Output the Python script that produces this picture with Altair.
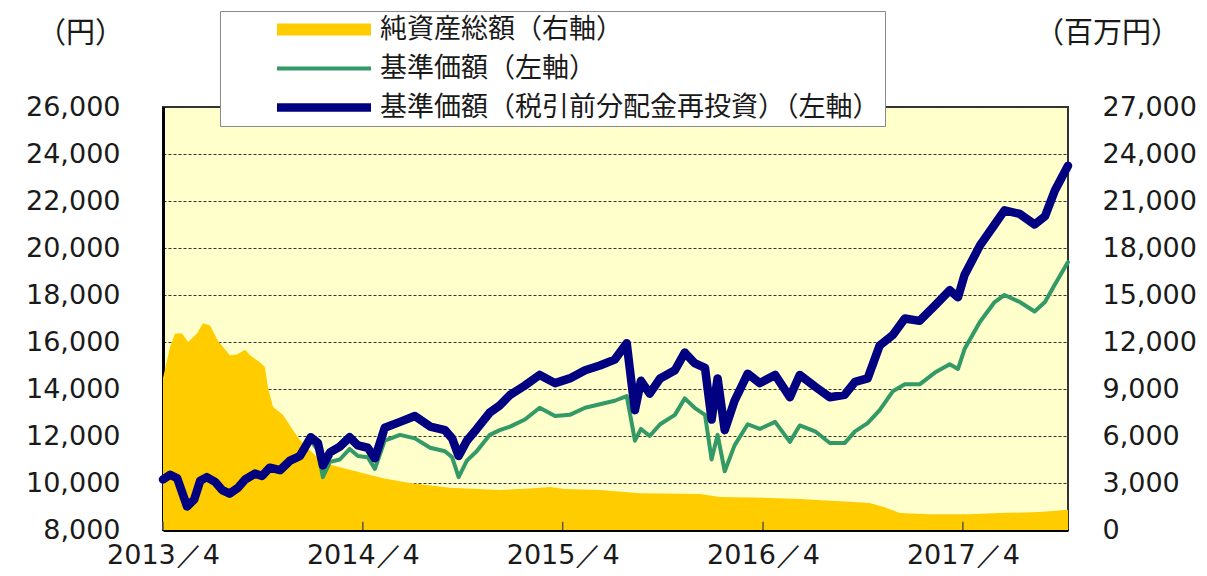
import altair as alt
import pandas as pd

# ---- data ----
nav_dates = [
    "2013-04-01", "2013-04-14", "2013-04-27", "2013-05-15", "2013-05-28", "2013-06-08",
    "2013-06-20", "2013-07-05", "2013-07-18", "2013-08-01", "2013-08-16", "2013-08-29",
    "2013-09-16", "2013-09-29", "2013-10-13", "2013-11-01", "2013-11-19", "2013-12-07",
    "2013-12-16", "2013-12-27", "2014-01-09", "2014-01-18", "2014-01-31", "2014-02-18",
    "2014-03-08", "2014-03-23", "2014-04-10", "2014-04-23", "2014-05-11", "2014-06-08",
    "2014-07-05", "2014-08-02", "2014-08-29", "2014-09-11", "2014-09-23", "2014-10-08",
    "2014-10-26", "2014-11-19", "2014-12-07", "2014-12-26", "2015-01-22", "2015-02-18",
    "2015-03-18", "2015-04-14", "2015-05-12", "2015-06-08", "2015-07-05", "2015-07-27",
    "2015-08-04", "2015-08-11", "2015-08-22", "2015-09-07", "2015-09-26", "2015-10-23",
    "2015-11-10", "2015-11-28", "2015-12-17", "2015-12-29", "2016-01-09", "2016-01-22",
    "2016-02-09", "2016-03-04", "2016-03-26", "2016-04-23", "2016-05-20", "2016-06-07",
    "2016-07-05", "2016-08-01", "2016-08-28", "2016-09-16", "2016-10-09", "2016-10-31",
    "2016-11-24", "2016-12-16", "2017-01-12", "2017-02-09", "2017-03-08", "2017-03-23",
    "2017-04-04", "2017-05-02", "2017-05-29", "2017-06-16", "2017-07-14", "2017-08-10",
    "2017-08-29", "2017-09-16", "2017-10-10",
]
nav_reinvested = [
    10150, 10350, 10200, 9000, 9300, 10100,
    10250, 10050, 9700, 9550, 9800, 10150,
    10400, 10300, 10650, 10550, 10950, 11150,
    11500, 11950, 11700, 10750, 11300, 11550,
    11950, 11600, 11500, 11050, 12350, 12600,
    12850, 12400, 12250, 11900, 11150, 11800,
    12300, 13000, 13300, 13750, 14150, 14600,
    14250, 14450, 14800, 15000, 15250, 15950,
    14400, 13100, 14350, 13800, 14450, 14800,
    15550, 15100, 14900, 12700, 14450, 12250,
    13500, 14650, 14250, 14600, 13650, 14600,
    14100, 13650, 13750, 14300, 14450, 15850,
    16300, 17000, 16900, 17550, 18200, 17900,
    18850, 20100, 21000, 21600, 21450, 21000,
    21350, 22450, 23500,
]
nav_plain = [
    10100, 10300, 10150, 8950, 9250, 10050,
    10200, 10000, 9650, 9450, 9750, 10100,
    10350, 10250, 10600, 10450, 10850, 11050,
    11400, 11800, 11400, 10250, 10900, 11000,
    11450, 11150, 11100, 10600, 11800, 12050,
    11900, 11500, 11350, 11100, 10250, 10950,
    11350, 12050, 12250, 12400, 12700, 13200,
    12850, 12900, 13200, 13350, 13500, 13700,
    12700, 11800, 12300, 12000, 12500, 12900,
    13600, 13200, 12900, 11000, 12050, 10500,
    11600, 12500, 12300, 12600, 11750, 12450,
    12200, 11700, 11700, 12200, 12550, 13100,
    13900, 14200, 14200, 14700, 15050, 14850,
    15700, 16850, 17700, 18000, 17700, 17300,
    17700, 18450, 19400,
]
asset_dates = [
    "2013-04-01", "2013-04-14", "2013-04-23", "2013-05-06", "2013-05-17", "2013-06-02",
    "2013-06-13", "2013-06-26", "2013-07-10", "2013-08-01", "2013-08-14", "2013-08-29",
    "2013-09-07", "2013-09-25", "2013-10-04", "2013-10-10", "2013-10-19", "2013-11-06",
    "2013-11-24", "2013-12-07", "2013-12-25", "2014-01-18", "2014-03-08", "2014-05-08",
    "2014-06-26", "2014-09-07", "2014-12-07", "2015-01-31", "2015-03-09", "2015-04-05",
    "2015-06-08", "2015-08-20", "2015-12-08", "2016-01-13", "2016-04-13", "2016-06-07",
    "2016-09-06", "2016-10-13", "2016-11-09", "2016-12-07", "2017-01-30", "2017-04-14",
    "2017-06-07", "2017-08-19", "2017-10-10",
]
net_assets = [
    9700, 11700, 12550, 12550, 12000, 12550,
    13200, 13050, 12100, 11150, 11200, 11500,
    11150, 10700, 10400, 9050, 7850, 7350,
    6400, 5750, 5100, 4300, 3850, 3300,
    3000, 2700, 2550, 2650, 2750, 2620,
    2550, 2350, 2300, 2100, 2050, 1980,
    1800, 1720, 1450, 1080, 1000, 1000,
    1080, 1150, 1300,
]
tick_dates = ["2013-04-01", "2014-04-01", "2015-04-01", "2016-04-01", "2017-04-01"]
left_ticks = list(range(8000, 26001, 2000))
right_ticks = list(range(0, 27001, 3000))

series_names = ["純資産総額（右軸）", "基準価額（左軸）", "基準価額（税引前分配金再投資）（左軸）"]
series_colors = ["#FFCC00", "#339966", "#000080"]
series_widths = [12, 4, 8.5]

# ---- tables ----
df_plain = pd.DataFrame({"date": pd.to_datetime(nav_dates), "value": nav_plain, "series": series_names[1]})
df_re = pd.DataFrame({"date": pd.to_datetime(nav_dates), "value": nav_reinvested, "series": series_names[2]})
df_assets = pd.DataFrame({"date": pd.to_datetime(asset_dates), "value": net_assets})
df_ticks = pd.DataFrame({"date": pd.to_datetime(tick_dates), "y0": 8000, "y1": 8350})

NUM_FONT = "DejaVu Sans"
JP_FONT = "Noto Sans CJK JP"
TXT = "#1a1a1a"

x_scale = alt.Scale(domain=[alt.DateTime(year=2013, month=4, date=1),
                            alt.DateTime(year=2017, month=10, date=10)], nice=False)
x_axis = alt.Axis(
    values=[alt.DateTime(year=y, month=4, date=1) for y in range(2013, 2018)],
    format="%Y／%-m", title=None, grid=False, ticks=False,
    domainColor="#000", domainWidth=3, labelFont=NUM_FONT, labelFontSize=27,
    labelColor=TXT, labelPadding=12, labelFlush=False, labelOverlap=False,
)
left_scale = alt.Scale(domain=[8000, 26000], nice=False, zero=False)
left_axis = alt.Axis(
    values=left_ticks, format=",.0f", grid=True, gridColor="#333", gridDash=[3, 2], gridWidth=1,
    ticks=False, domainColor="#000", domainWidth=3, labelFont=NUM_FONT, labelFontSize=27,
    labelColor=TXT, labelPadding=43, title="（円）", titleAngle=0, titleX=-83, titleY=-74,
    titleAlign="center", titleBaseline="middle", titleFont=JP_FONT, titleFontSize=29,
    titleFontWeight="normal", titleColor=TXT,
)
right_axis = alt.Axis(
    orient="right", values=right_ticks, format=",.0f", grid=False, ticks=False, domain=False,
    labelFont=NUM_FONT, labelFontSize=27, labelColor=TXT, labelPadding=34,
    title="（百万円）", titleAngle=0, titleX=39, titleY=-74, titleAlign="center",
    titleBaseline="middle", titleFont=JP_FONT, titleFontSize=29, titleFontWeight="normal",
    titleColor=TXT,
)

legend = alt.Legend(
    orient="none", legendX=57, legendY=-96, title=None, fillColor="white",
    strokeColor="#8a8a8a", padding=5, symbolType="stroke", symbolSize=8836,
    clipHeight=27, rowPadding=11, labelFont=JP_FONT, labelFontSize=27, labelColor=TXT,
    labelOffset=3, symbolOffset=46, labelLimit=0,
)
color_enc = alt.Color("series:N", scale=alt.Scale(domain=series_names, range=series_colors), legend=legend)
width_enc = alt.StrokeWidth("series:N",
                            scale=alt.Scale(type="ordinal", domain=series_names, range=series_widths),
                            legend=legend)

area = alt.Chart(df_assets).mark_area(color="#FFCC00", interpolate="linear").encode(
    x=alt.X("date:T", scale=x_scale, axis=x_axis),
    y=alt.Y("value:Q", scale=alt.Scale(domain=[0, 27000], nice=False), axis=right_axis),
)

green = alt.Chart(df_plain).mark_line(strokeCap="round", strokeJoin="round").encode(
    x=alt.X("date:T", scale=x_scale, axis=x_axis),
    y=alt.Y("value:Q", scale=left_scale, axis=left_axis),
    color=color_enc, strokeWidth=width_enc,
)
blue = alt.Chart(df_re).mark_line(strokeCap="round", strokeJoin="round").encode(
    x=alt.X("date:T", scale=x_scale, axis=x_axis),
    y=alt.Y("value:Q", scale=left_scale, axis=left_axis),
    color=color_enc, strokeWidth=width_enc,
)
ticks = alt.Chart(df_ticks).mark_rule(color="#555", strokeWidth=1.5).encode(
    x=alt.X("date:T", scale=x_scale, axis=x_axis),
    y=alt.Y("y0:Q", scale=left_scale, axis=left_axis),
    y2="y1:Q",
)

lines = alt.layer(green, blue, ticks)
chart = alt.layer(area, lines).resolve_scale(y="independent").properties(
    width=905, height=423, autosize="none",
    padding={"left": 155, "top": 99, "right": 131, "bottom": 38},
    background="white",
).configure_view(fill="#FFFFCC", stroke="#333", strokeWidth=2)

chart.save("out.html", embed_options={"renderer": "svg", "actions": False})
